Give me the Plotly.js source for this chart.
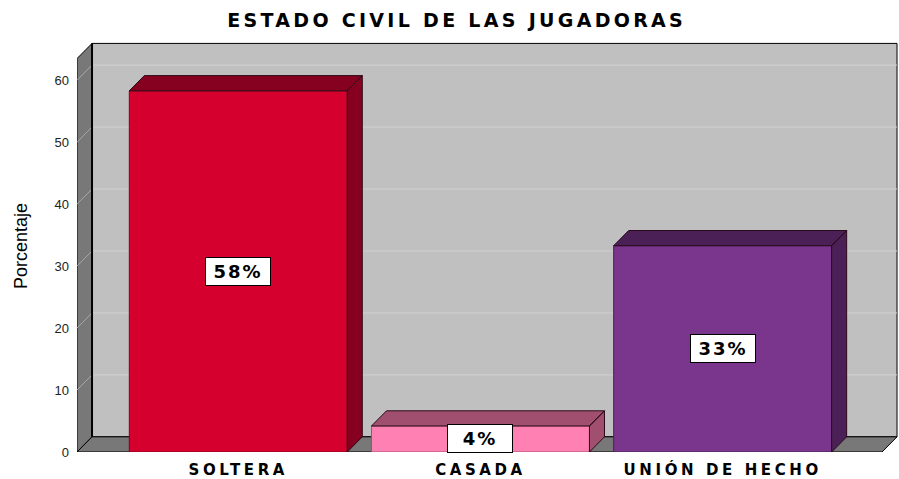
<!DOCTYPE html>
<html>
<head>
<meta charset="utf-8">
<script src="https://cdn.plot.ly/plotly-3.0.1.min.js"></script>
<style>
  html, body { margin: 0; padding: 0; background: #fff; }
  #chart { width: 899px; height: 479px; }
  .gtitle { letter-spacing: 3.3px; }
  .xtick text { letter-spacing: 3.6px; }
  .annotation-text { letter-spacing: 2px; }
</style>
</head>
<body>
<div id="chart"></div>
<script>
// ---- data ----
const categories = ["SOLTERA", "CASADA", "UNIÓN DE HECHO"];
const values = [58.3, 4.2, 33.3];
const yTicks = [0, 10, 20, 30, 40, 50, 60];

// ---- styling / geometry constants ----
const frontColors = ["#d6002f", "#ff80b3", "#79368c"];
const darkColors  = ["#86001f", "#a0506e", "#4a2057"];
const barWidth = 0.9;
const dx = 0.062;   // depth offset in category units
const dy = 2.45;    // depth offset in value units
const xMin = -0.666, xMax = 2.72;
const wallTop = 63.5;

const xIdx = categories.map((c, i) => i);

const traces = [];
// front faces
traces.push({
  type: "bar", x: xIdx, y: values, width: barWidth,
  marker: { color: frontColors, line: { color: darkColors, width: 1 } },
  hoverinfo: "skip", showlegend: false
});
// top + side faces
values.forEach((v, i) => {
  const xl = i - barWidth / 2, xr = i + barWidth / 2;
  traces.push({
    type: "scatter", mode: "lines", fill: "toself",
    x: [xl, xr, xr, xr + dx, xr + dx, xr, xr + dx, xl + dx, xl],
    y: [v, v, 0, dy, v + dy, v, v + dy, v + dy, v],
    fillcolor: darkColors[i],
    line: { color: "#2a0a18", width: 1 },
    hoverinfo: "skip", showlegend: false
  });
});

const shapes = [];
// back wall
shapes.push({ type: "rect", layer: "below", xref: "x", yref: "y",
  x0: xMin + dx, x1: xMax, y0: dy, y1: wallTop + dy,
  fillcolor: "#c0c0c0", line: { color: "#000", width: 1 } });
// left wall
shapes.push({ type: "path", layer: "below", xref: "x", yref: "y",
  path: `M ${xMin},0 L ${xMin},${wallTop} L ${xMin + dx},${wallTop + dy} L ${xMin + dx},${dy} Z`,
  fillcolor: "#787878", line: { color: "#000", width: 1 } });
// floor
shapes.push({ type: "path", layer: "below", xref: "x", yref: "y",
  path: `M ${xMin},0 L ${xMax - dx},0 L ${xMax},${dy} L ${xMin + dx},${dy} Z`,
  fillcolor: "#787878", line: { color: "#000", width: 1 } });
// gridlines
yTicks.forEach(t => {
  if (t === 0) return;
  shapes.push({ type: "line", layer: "below", xref: "x", yref: "y",
    x0: xMin + dx, x1: xMax, y0: t + dy, y1: t + dy,
    line: { color: "#d2d2d2", width: 1 } });
  shapes.push({ type: "line", layer: "below", xref: "x", yref: "y",
    x0: xMin, x1: xMin + dx, y0: t, y1: t + dy,
    line: { color: "#a8a8a8", width: 1 } });
});
// back edge of left wall
shapes.push({ type: "line", layer: "below", xref: "x", yref: "y",
  x0: xMin + dx, x1: xMin + dx, y0: dy, y1: wallTop + dy,
  line: { color: "#000", width: 2 } });

const annotations = values.map((v, i) => ({
  x: i, y: v / 2, xref: "x", yref: "y",
  text: Math.round(v) + "%", showarrow: false,
  font: { family: "DejaVu Sans", size: 18, weight: 700, color: "#000" },
  bgcolor: "#ffffff", bordercolor: "#000", borderwidth: 1, borderpad: 3,
  width: 58
}));

const layout = {
  width: 899, height: 479,
  margin: { l: 77, r: 1, t: 40, b: 27 },
  paper_bgcolor: "#ffffff", plot_bgcolor: "#ffffff",
  title: {
    text: "ESTADO CIVIL DE LAS JUGADORAS",
    font: { family: "DejaVu Sans", size: 19, weight: 700, color: "#000" },
    x: 0.508, xanchor: "center", y: 0.958, yanchor: "middle", yref: "container"
  },
  xaxis: {
    range: [xMin, xMax + 0.004], tickvals: xIdx, ticktext: categories,
    showgrid: false, zeroline: false, showline: false, ticks: "",
    tickfont: { family: "DejaVu Sans", size: 15, weight: 700, color: "#000" },
    ticklabelstandoff: 7, fixedrange: true
  },
  yaxis: {
    range: [0, 66.5], tickvals: yTicks,
    showgrid: false, zeroline: false, showline: false, ticks: "",
    tickfont: { family: "Liberation Sans", size: 13, color: "#222" },
    ticklabelstandoff: 7,
    title: { text: "Porcentaje", font: { family: "Liberation Sans", size: 18, color: "#000" }, standoff: 22 },
    fixedrange: true
  },
  shapes: shapes,
  annotations: annotations,
  bargap: 0
};

Plotly.newPlot("chart", traces, layout, { displayModeBar: false, staticPlot: true });
</script>
</body>
</html>
